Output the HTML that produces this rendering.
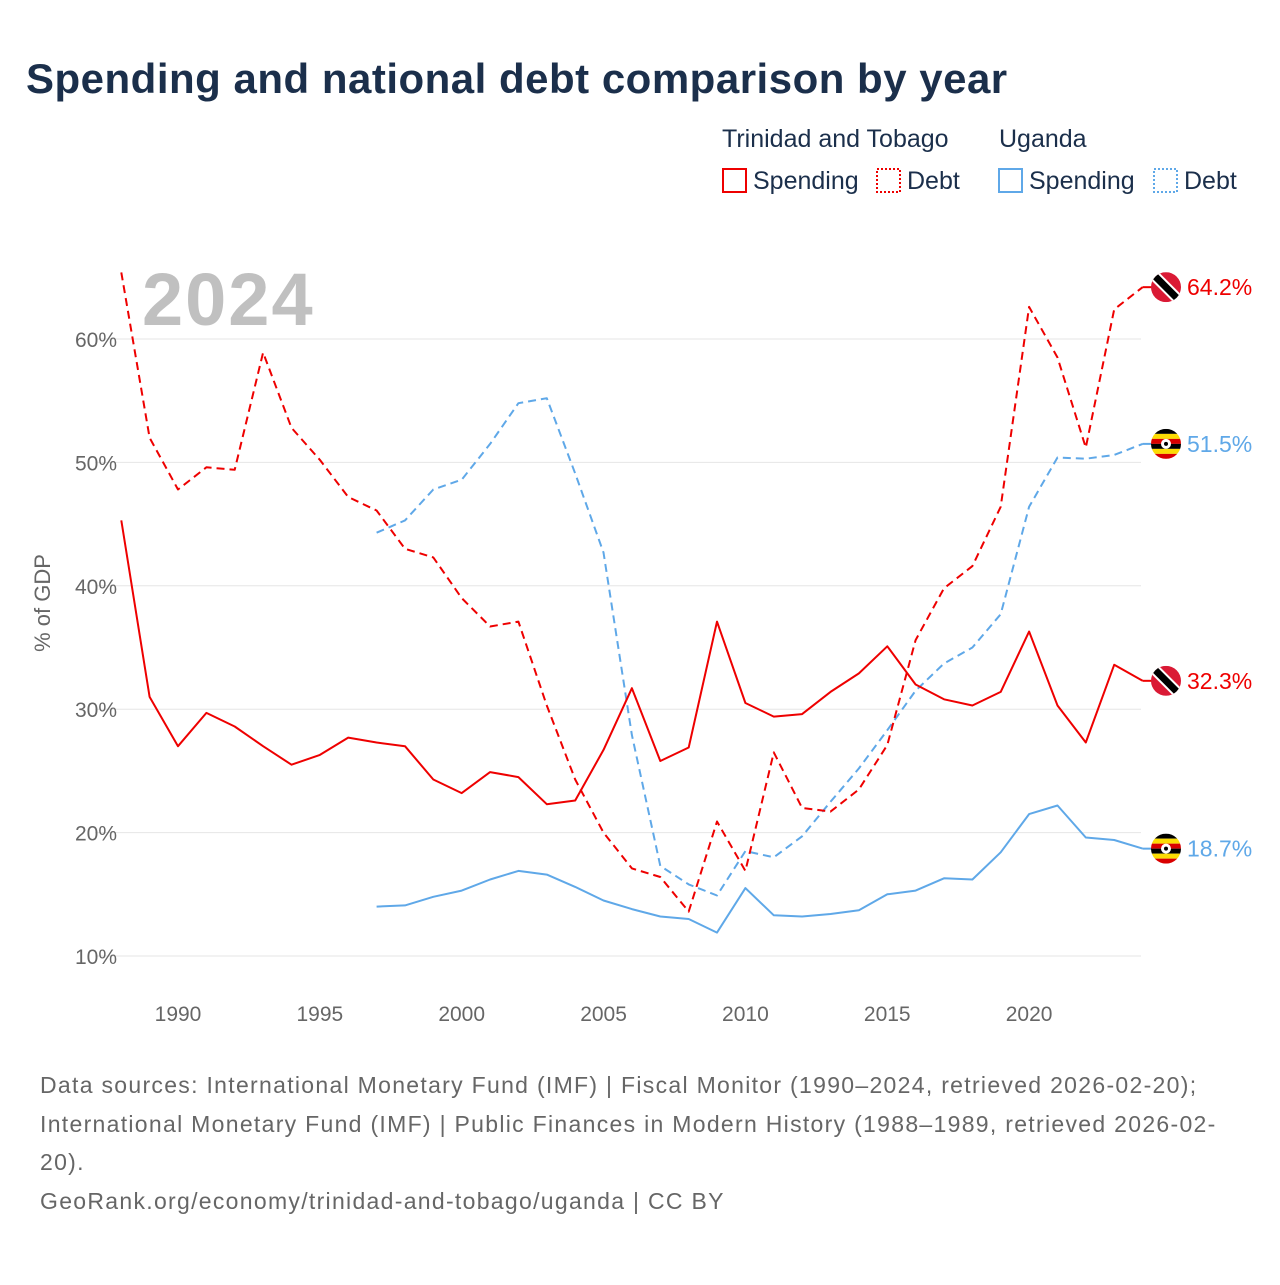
<!DOCTYPE html>
<html><head><meta charset="utf-8"><style>
body{margin:0;background:#fff;font-family:"Liberation Sans",sans-serif}
svg text{font-family:"Liberation Sans",sans-serif}
</style></head><body>
<svg id="chart" width="1280" height="1280" viewBox="0 0 1280 1280" xmlns="http://www.w3.org/2000/svg">
<rect width="1280" height="1280" fill="#fff"/>
<text x="26" y="93" font-size="42" font-weight="bold" fill="#1b2f4b" letter-spacing="0.5">Spending and national debt comparison by year</text>
<g font-size="25" fill="#1b2f4b">
<text x="722" y="147">Trinidad and Tobago</text>
<text x="999" y="147">Uganda</text>
<g><rect x="723" y="169" width="23" height="23" fill="none" stroke="#e00" stroke-width="2"/><text x="753" y="189">Spending</text></g>
<g><rect x="877" y="169" width="23" height="23" fill="none" stroke="#e00" stroke-width="2" stroke-dasharray="2,2"/><text x="907" y="189">Debt</text></g>
<g><rect x="999" y="169" width="23" height="23" fill="none" stroke="#5fa8e8" stroke-width="2"/><text x="1029" y="189">Spending</text></g>
<g><rect x="1154" y="169" width="23" height="23" fill="none" stroke="#5fa8e8" stroke-width="2" stroke-dasharray="2,2"/><text x="1184" y="189">Debt</text></g>
</g>
<text x="142" y="325" font-size="74" font-weight="bold" fill="#c0c0c0" letter-spacing="2">2024</text>
<text transform="translate(50,603) rotate(-90)" text-anchor="middle" font-size="22" fill="#666">% of GDP</text>
<g id="grid"></g><g id="xticks"></g><g id="lines"></g><g id="ends"></g>
<g font-size="23" fill="#666" letter-spacing="1.3">
<text x="40" y="1093">Data sources: International Monetary Fund (IMF) | Fiscal Monitor (1990–2024, retrieved 2026-02-20);</text>
<text x="40" y="1132">International Monetary Fund (IMF) | Public Finances in Modern History (1988–1989, retrieved 2026-02-</text>
<text x="40" y="1170">20).</text>
<text x="40" y="1209">GeoRank.org/economy/trinidad-and-tobago/uganda | CC BY</text>
</g>
</svg>
<script>
const years=[];for(let y=1988;y<=2024;y++)years.push(y);
const ttSpending=[45.3,31.0,27.0,29.7,28.6,27.0,25.5,26.3,27.7,27.3,27.0,24.3,23.2,24.9,24.5,22.3,22.6,26.7,31.7,25.8,26.9,37.1,30.5,29.4,29.6,31.4,32.9,35.1,32.0,30.8,30.3,31.4,36.3,30.3,27.3,33.6,32.3];
const ttDebt=[65.4,52.0,47.8,49.6,49.4,58.9,52.8,50.2,47.2,46.1,43.0,42.3,39.0,36.7,37.1,30.3,24.3,20.0,17.1,16.4,13.6,20.9,16.9,26.5,22.0,21.7,23.5,27.1,35.6,39.8,41.6,46.4,62.6,58.5,51.2,62.4,64.2];
const ugSpending=[null,null,null,null,null,null,null,null,null,14.0,14.1,14.8,15.3,16.2,16.9,16.6,15.6,14.5,13.8,13.2,13.0,11.9,15.5,13.3,13.2,13.4,13.7,15.0,15.3,16.3,16.2,18.4,21.5,22.2,19.6,19.4,18.7];
const ugDebt=[null,null,null,null,null,null,null,null,null,44.3,45.3,47.8,48.6,51.5,54.8,55.2,49.1,42.7,27.9,17.3,15.8,14.9,18.5,18.0,19.7,22.5,25.2,28.3,31.5,33.7,35.0,37.7,46.4,50.4,50.3,50.6,51.5];
const yTicks=[10,20,30,40,50,60];
const xTicks=[1990,1995,2000,2005,2010,2015,2020];
const NS="http://www.w3.org/2000/svg";
const X=y=>178+(y-1990)*28.37;
const Y=v=>956-(v-10)*12.34;
function el(t,a,p){const e=document.createElementNS(NS,t);for(const k in a)e.setAttribute(k,a[k]);document.getElementById(p).appendChild(e);return e;}
yTicks.forEach(t=>{
 const l=el('line',{x1:95,x2:1141,y1:Y(t),y2:Y(t),stroke:'#e6e6e6','stroke-width':1},'grid');
 
 
 const tx=el('text',{x:117,y:Y(t)+8,'text-anchor':'end','font-size':21,fill:'#666'},'grid');
 tx.textContent=t+'%';
 
 
});
xTicks.forEach(t=>{
 const tx=el('text',{x:X(t),y:1021,'text-anchor':'middle','font-size':21,fill:'#666'},'xticks');
 tx.textContent=t;
 
 
});
function series(vals,color,dash,name){
 let d='';let started=false;
 vals.forEach((v,i)=>{if(v==null)return;d+=(started?'L':'M')+X(years[i]).toFixed(1)+','+Y(v).toFixed(1);started=true;});
 const p=el('path',{d:d,fill:'none',stroke:color,'stroke-width':2,'stroke-dasharray':dash||'none','stroke-linejoin':'round'},'lines');
 
 
}
series(ugDebt,'#5fa8e8','8,5','line-uganda-debt');
series(ugSpending,'#5fa8e8','','line-uganda-spending');
series(ttDebt,'#e00','8,5','line-tt-debt');
series(ttSpending,'#e00','','line-tt-spending');
function flag(cx,cy,kind){
 const g=el('g',{},'ends');
 
 
 const id='c'+Math.round(cy);
 const cp=document.createElementNS(NS,'clipPath');cp.setAttribute('id',id);
 const c=document.createElementNS(NS,'circle');c.setAttribute('cx',cx);c.setAttribute('cy',cy);c.setAttribute('r',15);cp.appendChild(c);g.appendChild(cp);
 const inner=document.createElementNS(NS,'g');inner.setAttribute('clip-path','url(#'+id+')');g.appendChild(inner);
 const add=(t,a)=>{const e=document.createElementNS(NS,t);for(const k in a)e.setAttribute(k,a[k]);inner.appendChild(e);};
 if(kind==='tt'){
  add('rect',{x:cx-15,y:cy-15,width:30,height:30,fill:'#da1a35'});
  add('line',{x1:cx-15,y1:cy-15,x2:cx+15,y2:cy+15,stroke:'#fff',"stroke-width":11});
  add('line',{x1:cx-15,y1:cy-15,x2:cx+15,y2:cy+15,stroke:'#000',"stroke-width":7});
 }else{
  const cols=['#000','#fcdc04','#d90000','#000','#fcdc04','#d90000'];
  cols.forEach((col,i)=>add('rect',{x:cx-15,y:cy-15+i*5,width:30,height:5,fill:col}));
  add('circle',{cx:cx,cy:cy,r:5,fill:'#fff'});
  add('circle',{cx:cx,cy:cy,r:2,fill:'#000'});
 }
}
function endLabel(vals,color,name,kind){
 const v=vals[vals.length-1];const y=Y(v);
 el('line',{x1:X(2024),x2:1152,y1:y,y2:y,stroke:color,'stroke-width':2},'ends');
 flag(1166,y,kind);
 const t=el('text',{x:1187,y:y+8,'font-size':23,fill:color},'ends');
 t.textContent=v.toFixed(1)+'%';
 
 
}
endLabel(ttDebt,'#e00','end-label-tt-debt','tt');
endLabel(ugDebt,'#5fa8e8','end-label-uganda-debt','ug');
endLabel(ttSpending,'#e00','end-label-tt-spending','tt');
endLabel(ugSpending,'#5fa8e8','end-label-uganda-spending','ug');
</script>
</body></html>
